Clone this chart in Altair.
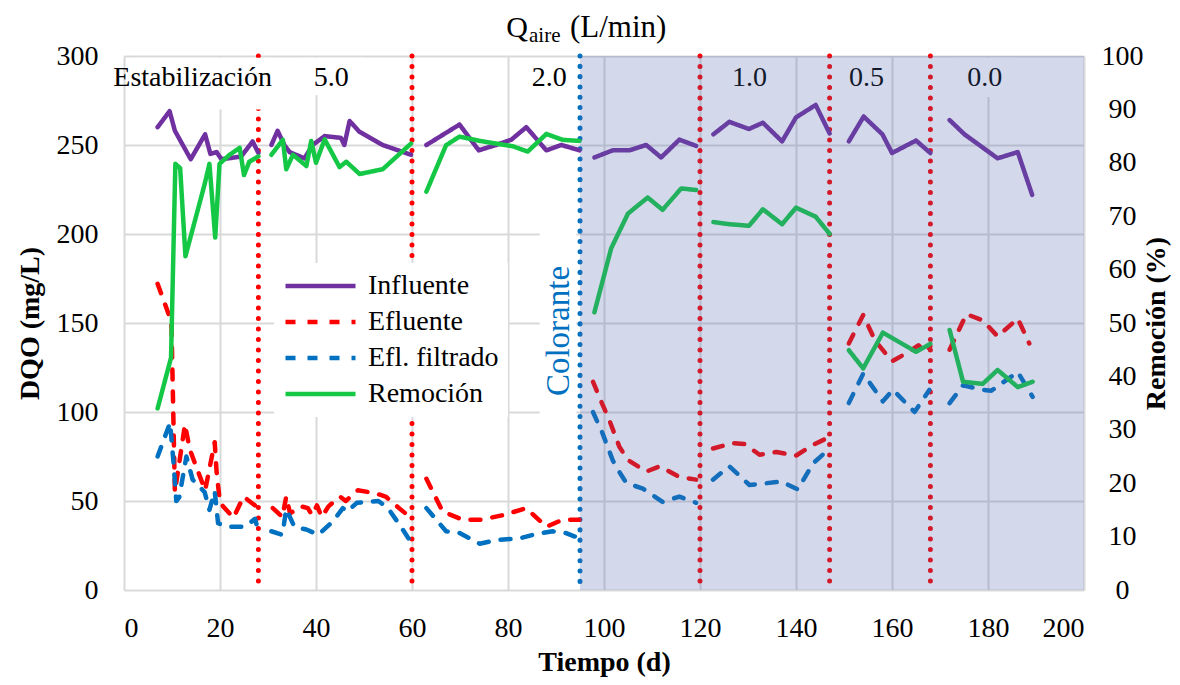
import altair as alt
import pandas as pd

FONT = "Liberation Serif"
W, H = 960, 534

# phase boundaries (days)
bounds = [28, 60, 95, 120, 147, 168]

# ---------------- data ----------------
inf_days = [7, 9.5, 10.6, 13.9, 16.9, 18.0, 19.3, 20.3, 24.4, 26.8, 28.0,
            30.7, 32.0, 33.4, 34.5, 37.6, 39.3, 41.8, 45.2, 45.9, 47.0, 49.0, 53.9, 59.8,
            63.0, 69.9, 73.9, 77.5, 80.7, 83.8, 88.0, 91.1, 94.9,
            98.0, 101.8, 105.3, 108.8, 111.9, 115.7, 119.2,
            122.8, 126.1, 130.2, 133.1, 137.1, 140.0, 144.1, 147.0,
            151.0, 154.1, 158.0, 160.0, 165.0, 168.0,
            172.0, 175.1, 182.0, 186.2, 189.2]
inf_vals = [260, 269, 258, 242, 256, 245, 246, 242, 243.5, 252, 245.5,
            250, 258, 250, 246, 242.5, 250, 255, 254, 250, 263.5, 257.5, 250, 244.5,
            250, 261.5, 247, 250, 253, 260, 247, 250, 247,
            243, 247, 247, 250, 243, 253, 249.5,
            256, 263, 259, 262.5, 252, 265.5, 272.5, 256.5,
            252, 266, 256, 245.5, 252.5, 245.5,
            264, 256, 242.5, 246, 222]

efl_days = [7, 9.3, 9.9, 10.6, 12.7, 13.7, 16.9, 18.9, 19.3, 20.0, 22.8, 24.9, 28.0,
            31.0, 33.0, 33.8, 34.6, 36.9, 38.3, 39.2, 40.2, 41.2, 42.6, 45.0, 46.2, 48.7, 52.2, 54.5, 57.3, 60.0,
            63.0, 66.4, 70.6, 74.4, 78.9, 83.8, 88.0, 91.4, 94.9,
            97.7, 99.4, 101.1, 103.2, 105.0, 108.8, 111.6, 115.7, 119.2,
            122.7, 126.8, 129.3, 132.4, 135.9, 140.0, 143.5, 147.0,
            151.0, 154.0, 156.5, 160.0, 163.0, 165.5, 167.0, 168.0,
            172.0, 175.5, 178.9, 182.0, 186.2, 188.6]
efl_vals = [172, 155, 148, 55, 93, 79, 56, 83, 66, 49, 40.5, 52.5, 46,
            46, 41, 52.5, 43, 47, 46, 42, 47.5, 41, 47, 52.5, 50, 56, 54.5, 52.5, 46, 40,
            62.5, 44, 39.5, 39.5, 42, 46, 35.5, 39.5, 39.5,
            117, 106, 95.5, 80.5, 73, 66.5, 69.5, 63.5, 62,
            79.5, 82.5, 82, 76, 77.5, 75.5, 81.5, 86,
            138.5, 154.5, 140, 128.5, 133, 137.5, 134, 137,
            135, 155, 151.5, 142.5, 152.5, 138.5]

fil_days = [7, 9.6, 10.3, 10.9, 11.5, 13.0, 14.3, 16.8, 17.8, 18.9, 19.6, 21.5, 25.2, 27.3, 28.0,
            30.7, 33.0, 33.8, 35.5, 38.0, 40.5, 43.5, 45.6, 46.5, 48.5, 53.0, 55.0, 57.7, 60.0,
            63.0, 67.1, 69.9, 74.1, 77.5, 82.4, 85.9, 89.3, 92.1, 94.9,
            97.7, 99.7, 101.8, 102.9, 104.7, 108.1, 112.2, 115.7, 119.2,
            122.7, 126.1, 130.3, 133.8, 136.9, 140.4, 143.5, 147.0,
            151.0, 154.0, 158.1, 160.2, 164.7, 167.8,
            172.0, 174.8, 178.9, 180.7, 186.2, 189.3]
fil_vals = [75, 94, 72, 50, 52, 75, 62, 55, 45, 55.5, 37.5, 35.5, 35.5, 40, 33,
            33, 31, 45.5, 35.5, 34, 31, 38.5, 46, 44, 49, 50, 46, 35.5, 26,
            46, 33, 32, 26, 28, 29, 31.5, 33, 32, 29,
            100, 88, 73, 67.5, 60, 57, 49.5, 52.5, 49,
            62, 69.5, 59, 60, 61, 56.5, 71, 79.5,
            105, 121.5, 106, 112.5, 100, 112.5,
            105, 115, 112.5, 112, 122.5, 108.5]

rem_days = [7, 9.8, 10.7, 11.7, 12.8, 16.8, 17.8, 19.0, 19.9, 22.0, 24.1, 25.0, 26.1, 28.0,
            30.7, 33.1, 33.8, 35.2, 38.0, 39.0, 40.0, 41.8, 44.9, 46.3, 49.1, 53.9, 59.8,
            63.0, 67.1, 69.9, 74.1, 77.5, 81.0, 84.1, 88.0, 91.4, 94.9,
            98.0, 101.5, 105.0, 109.1, 112.2, 116.1, 119.2,
            122.8, 126.1, 130.2, 133.1, 137.1, 140.0, 144.1, 147.0,
            151.0, 154.0, 158.1, 165.0, 168.0,
            172.0, 174.8, 178.9, 182.0, 186.2, 189.3]
rem_vals = [34, 43.5, 79.8, 79, 62.5, 76, 79.8, 66, 79.8, 81.5, 82.8, 77.7, 80.2, 81.2,
            81.5, 84.3, 78.8, 81.5, 79.4, 84.1, 80, 84.4, 79.2, 80.2, 77.9, 78.8, 83.6,
            74.6, 83.3, 84.9, 84.1, 83.6, 83.1, 82.1, 85.4, 84.3, 84.1,
            52, 64, 70.5, 73.5, 71.2, 75.2, 74.9,
            68.9, 68.5, 68.2, 71.3, 68.5, 71.6, 69.9, 66.7,
            44.9, 41.5, 48.2, 44.6, 46.1,
            48.7, 39, 38.6, 41.2, 38, 39]

series_order = ["Influente", "Efluente", "Efl. filtrado", "Remoción"]
series_colors = ["#7030A0", "#FF0000", "#0070C0", "#14C846"]
series_dash = [[1, 0], [10, 12], [10, 12], [1, 0]]

# phase annotations
phase_red_days = [28, 60, 120, 147, 168]
colorante_day = [95]
phase_labels = ["Estabilización", "5.0", "2.0", "1.0", "0.5", "0.0"]
phase_label_days = [14.3, 43.2, 88.6, 130.3, 154.7, 179.3]
phase_label_vals = [287.5, 287.5, 287.5, 287.5, 287.5, 287.5]

# white text-box backgrounds (day from, day to, value from, value to)
box_d1 = [2, 37, 173, 86.6]
box_d2 = [31, 50, 186, 94.2]
box_v1 = [270, 278, 277, 95]
box_v2 = [299, 299, 299, 205]

shade_d1 = [95]
shade_d2 = [200]


def frame(name, days, vals):
    seg = [sum(d > b for b in bounds) for d in days]
    return pd.DataFrame({"dia": days, "valor": vals, "serie": name, "tramo": seg})


left_df = pd.concat([frame("Influente", inf_days, inf_vals),
                     frame("Efluente", efl_days, efl_vals),
                     frame("Efl. filtrado", fil_days, fil_vals)])
rem_df = frame("Remoción", rem_days, rem_vals)

xscale = alt.Scale(domain=[0, 200], nice=False, zero=False)
x_axis = alt.Axis(values=list(range(0, 201, 20)), grid=True, gridColor="#D9D9D9", gridWidth=2,
                  domain=False, ticks=False, labelFont=FONT, labelFontSize=28, labelColor="black",
                  labelPadding=24, title="Tiempo (d)", titleFont=FONT, titleFontSize=28,
                  titleFontWeight="bold", titleColor="black", titleX=W / 2, titleY=72,
                  titleBaseline="middle", titleAlign="center")
yl_axis = alt.Axis(values=list(range(0, 301, 50)), grid=True, gridColor="#D9D9D9", gridWidth=2,
                   domain=False, ticks=False, labelFont=FONT, labelFontSize=28, labelColor="black",
                   labelPadding=26, title="DQO (mg/L)", titleFont=FONT, titleFontSize=28,
                   titleFontWeight="bold", titleColor="black", titleAngle=270, titleX=-94,
                   titleY=H / 2, titleBaseline="middle", titleAlign="center")
yr_axis = alt.Axis(orient="right", values=list(range(0, 101, 10)), grid=False, domain=False,
                   ticks=False, labelFont=FONT, labelFontSize=28, labelColor="black",
                   labelAlign="center", labelPadding=38, title="Remoción (%)", titleFont=FONT,
                   titleFontSize=28, titleFontWeight="bold", titleColor="black", titleAngle=270,
                   titleX=72, titleY=H / 2, titleBaseline="middle", titleAlign="center")

legend = alt.Legend(title=None, orient="none", legendX=150, legendY=207, fillColor="white",
                    padding=9, symbolType="stroke", symbolSize=4900, symbolStrokeWidth=4.5,
                    labelFont=FONT, labelFontSize=28, labelColor="black", labelLimit=400,
                    clipHeight=28, rowPadding=8, labelOffset=10)
color_enc = alt.Color("serie:N", scale=alt.Scale(domain=series_order, range=series_colors), legend=legend)
dash_enc = alt.StrokeDash("serie:N", scale=alt.Scale(domain=series_order, range=series_dash), legend=legend)

red_rules = alt.Chart(pd.DataFrame({"dia": phase_red_days})).mark_rule(
    color="#FF0000", strokeWidth=5, strokeDash=[0.1, 10.4], strokeCap="round").encode(
    x=alt.X("dia:Q", scale=xscale, axis=x_axis))
blue_rule = alt.Chart(pd.DataFrame({"dia": colorante_day})).mark_rule(
    color="#0070C0", strokeWidth=5, strokeDash=[0.1, 10.2], strokeCap="round").encode(x="dia:Q")

# white text-box backgrounds (drawn over gridlines and phase rules, under data lines)
boxes = alt.Chart(pd.DataFrame({"dia": box_d1, "dia2": box_d2, "valor": box_v1, "valor2": box_v2})).mark_rect(
    color="white").encode(x="dia:Q", x2="dia2",
                          y=alt.Y("valor:Q", scale=alt.Scale(domain=[0, 300], nice=False), axis=yl_axis),
                          y2="valor2")

left_lines = alt.Chart(left_df).mark_line(strokeWidth=4.5, strokeCap="round", strokeJoin="round").encode(
    x="dia:Q", y="valor:Q", color=color_enc, strokeDash=dash_enc, detail="tramo:N",
    order="dia:Q")

phase_text = alt.Chart(pd.DataFrame({"dia": phase_label_days, "valor": phase_label_vals,
                                     "txt": phase_labels})).mark_text(
    font=FONT, fontSize=28, color="black", baseline="middle", align="center").encode(
    x="dia:Q", y="valor:Q", text="txt:N")

colorante = alt.Chart(pd.DataFrame({"dia": [90.6], "valor": [145.5], "txt": ["Colorante"]})).mark_text(
    font=FONT, fontSize=33, color="#0070C0", angle=270, baseline="middle", align="center").encode(
    x="dia:Q", y="valor:Q", text="txt:N")

t_q = alt.Chart(pd.DataFrame({"txt": ["Q"]})).mark_text(
    font=FONT, fontSize=30, color="black", align="right", baseline="alphabetic").encode(
    x=alt.value(404), y=alt.value(-19), text="txt:N")
t_sub = alt.Chart(pd.DataFrame({"txt": ["aire"]})).mark_text(
    font=FONT, fontSize=21, color="black", align="left", baseline="alphabetic").encode(
    x=alt.value(405), y=alt.value(-14), text="txt:N")
t_unit = alt.Chart(pd.DataFrame({"txt": ["(L/min)"]})).mark_text(
    font=FONT, fontSize=31, color="black", align="left", baseline="alphabetic").encode(
    x=alt.value(446), y=alt.value(-19), text="txt:N")

left_layer = alt.layer(red_rules, blue_rule, boxes, left_lines, phase_text, colorante, t_q, t_sub, t_unit)

rem_line = alt.Chart(rem_df).mark_line(strokeWidth=4.5, strokeCap="round", strokeJoin="round").encode(
    x="dia:Q",
    y=alt.Y("valor:Q", scale=alt.Scale(domain=[0, 100], nice=False), axis=yr_axis),
    color=color_enc, strokeDash=dash_enc, detail="tramo:N", order="dia:Q")

shade = alt.Chart(pd.DataFrame({"dia": shade_d1, "dia2": shade_d2})).mark_rect(
    color="#4F67AB", opacity=0.25).encode(x="dia:Q", x2="dia2", y=alt.value(0), y2=alt.value(H))

chart = alt.layer(left_layer, rem_line, shade).resolve_scale(y="independent").properties(
    width=W, height=H,
    autosize=alt.AutoSizeParams(type="none"),
    padding={"left": 116, "top": 48, "right": 88, "bottom": 87},
).configure_view(stroke=None)

chart.save("out.html", embed_options={"renderer": "svg", "actions": False})
